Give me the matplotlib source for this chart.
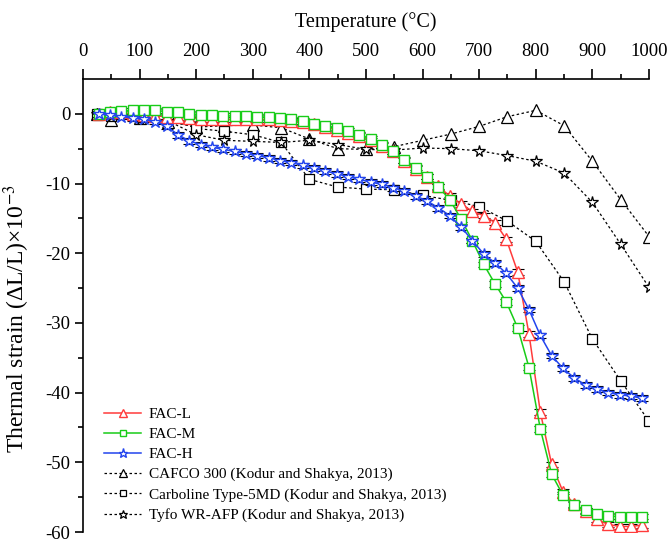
import matplotlib

matplotlib.use("Agg")
import matplotlib.pyplot as plt

# FAC test series (measured every ~20 degC)
fac_temp = [28, 48, 68, 88, 108, 128, 148, 168, 188, 208, 228, 248, 268, 288, 308,
            328, 348, 368, 388, 408, 428, 448, 468, 488, 508, 528, 548, 568, 588,
            608, 628, 648, 668, 688, 708, 728, 748, 768, 788, 808, 828, 848, 868,
            888, 908, 928, 948, 968, 988]
fac_l = [0.0, 0.3, 0.2, 0.0, -0.2, -0.3, -0.4, -0.5, -0.6, -0.7, -0.8, -0.8, -0.8,
         -0.8, -0.8, -0.8, -0.9, -1.0, -1.2, -1.5, -1.9, -2.3, -2.7, -3.2, -3.8,
         -4.6, -5.4, -6.7, -7.9, -9.0, -10.4, -11.8, -12.9, -14.0, -14.6, -15.6,
         -18.0, -22.7, -31.6, -42.8, -50.3, -54.2, -56.0, -57.0, -58.2, -58.9,
         -59.2, -59.2, -59.0]
fac_m = [0.0, 0.2, 0.4, 0.5, 0.5, 0.5, 0.3, 0.2, 0.0, -0.1, -0.2, -0.3, -0.3,
         -0.3, -0.4, -0.5, -0.6, -0.8, -1.0, -1.4, -1.7, -2.1, -2.5, -3.0, -3.6,
         -4.5, -5.3, -6.6, -7.7, -9.0, -10.5, -12.3, -15.1, -18.2, -21.6, -24.4,
         -27.0, -30.7, -36.4, -45.2, -51.7, -54.7, -56.1, -56.9, -57.4, -57.7,
         -57.8, -57.8, -57.8]
fac_h = [0.0, -0.2, -0.4, -0.6, -0.8, -1.1, -1.8, -3.0, -3.9, -4.4, -4.8, -5.1,
         -5.4, -5.7, -6.0, -6.3, -6.7, -7.0, -7.4, -7.8, -8.2, -8.6, -9.0, -9.4,
         -9.8, -10.1, -10.6, -11.1, -11.8, -12.5, -13.5, -14.6, -16.2, -18.2,
         -20.1, -21.4, -22.9, -25.0, -28.1, -31.8, -34.7, -36.5, -37.9, -38.9,
         -39.5, -40.0, -40.3, -40.5, -40.8]
fac_err = 0.4

# Kodur and Shakya (2013) data
ref_temp = [25, 50, 100, 150, 200, 250, 300, 350, 400, 450, 500, 550, 600, 650,
            700, 750, 800, 850, 900, 950, 1000]
cafco = [0.0, -0.9, -0.6, -1.1, -1.9, -1.7, -1.6, -2.0, -3.6, -5.0, -5.1, -4.7,
         -3.8, -2.9, -1.8, -0.4, 0.5, -1.7, -6.8, -12.3, -17.6]
carboline = [0.0, -0.3, -0.4, -0.5, -2.1, -2.5, -3.0, -4.1, -9.4, -10.5, -10.8,
             -10.9, -11.7, -12.4, -13.3, -15.4, -18.3, -24.1, -32.3, -38.3, -44.1]
tyfo = [0.0, -0.3, -0.8, -1.0, -3.0, -3.8, -3.95, -4.1, -3.8, -4.4, -5.1, -5.2,
        -4.9, -5.0, -5.3, -6.0, -6.8, -8.5, -12.7, -18.7, -24.9]

plt.rcParams["font.family"] = ["Liberation Serif", "DejaVu Serif"]
plt.rcParams["mathtext.fontset"] = "stix"
plt.rcParams["axes.unicode_minus"] = False

fig = plt.figure(figsize=(6.71, 5.41), dpi=100)
ax = fig.add_axes([0.1237, 0.0166, 0.8435, 0.8374])

dash = (0, (2, 2))
ax.plot(ref_temp, cafco, color="black", lw=0.9, ls=dash, marker="^", ms=8,
        mfc="white", mec="black", mew=0.9,
        label="CAFCO 300 (Kodur and Shakya, 2013)")
ax.plot(ref_temp, carboline, color="black", lw=0.9, ls=dash, marker="s", ms=6.5,
        mfc="white", mec="black", mew=0.9,
        label="Carboline Type-5MD (Kodur and Shakya, 2013)")
ax.plot(ref_temp, tyfo, color="black", lw=0.9, ls=dash, marker="*", ms=8.5,
        mfc="white", mec="black", mew=0.9,
        label="Tyfo WR-AFP (Kodur and Shakya, 2013)")

series = [
    (fac_l, "#ff3b3b", "^", 8, "FAC-L"),
    (fac_m, "#18cc18", "s", 6.5, "FAC-M"),
    (fac_h, "#2244ee", "*", 9, "FAC-H"),
]
for vals, col, mk, ms, lab in series:
    ax.errorbar(fac_temp, vals, yerr=fac_err, fmt="none", ecolor="black",
                elinewidth=0.7, capsize=4, capthick=0.8, zorder=3)
    ax.plot(fac_temp, vals, color=col, lw=1.1, marker=mk, ms=ms,
            mfc="white", mec=col, mew=1.0, label=lab, zorder=4)

ref_handles, ref_labels = ax.get_legend_handles_labels()
order = ["FAC-L", "FAC-M", "FAC-H",
         "CAFCO 300 (Kodur and Shakya, 2013)",
         "Carboline Type-5MD (Kodur and Shakya, 2013)",
         "Tyfo WR-AFP (Kodur and Shakya, 2013)"]
lookup = dict(zip(ref_labels, ref_handles))
ax.legend([lookup[k] for k in order], order, loc="lower left",
          bbox_to_anchor=(0.02, 0.0), frameon=False, fontsize=11,
          handlelength=2.4, handletextpad=0.5, labelspacing=0.42,
          markerscale=0.75, borderaxespad=0.25)

ax.set_xlim(0, 1000)
ax.set_ylim(-60, 5)
ax.set_xticks(range(0, 1001, 100))
ax.set_xticks(range(50, 1000, 100), minor=True)
ax.set_yticks(range(-60, 1, 10))
ax.set_yticks(range(-55, 0, 10), minor=True)

ax.spines["bottom"].set_visible(False)
ax.spines["right"].set_visible(False)
ax.spines["top"].set_linewidth(1.2)
ax.spines["left"].set_linewidth(1.2)

ax.xaxis.tick_top()
ax.xaxis.set_label_position("top")
ax.tick_params(axis="x", which="major", direction="out", length=7, width=1.2,
               labelsize=13.5, pad=7)
ax.tick_params(axis="x", which="minor", direction="out", length=3.5, width=1.2)
ax.tick_params(axis="y", which="major", direction="out", length=6, width=1.2,
               labelsize=13.5, pad=3)
ax.tick_params(axis="y", which="minor", direction="out", length=3.5, width=1.2)

ax.set_xlabel("Temperature (°C)", fontsize=14.5, labelpad=11)
ax.set_ylabel("Thermal strain (ΔL/L)×10$^{-3}$", fontsize=17)
ax.yaxis.set_label_coords(-0.09, 0.47)

fig.savefig("out.png", dpi=100)
